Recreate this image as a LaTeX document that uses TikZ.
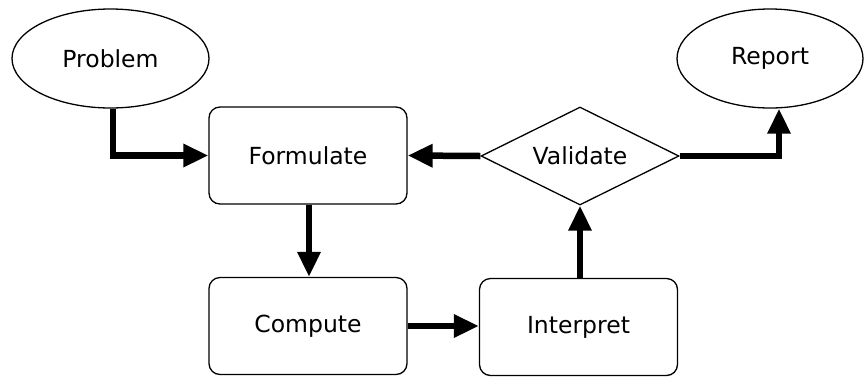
\documentclass[tikz,border=0pt]{standalone}
\usepackage{fontspec}
\setmainfont{DejaVu Sans}
\usetikzlibrary{shapes.geometric,arrows.meta}
\begin{document}
\begin{tikzpicture}[x=1pt,y=-1pt,
  every node/.style={font=\fontsize{23.5}{28}\selectfont},
  term/.style={ellipse,draw,line width=1.3pt,inner sep=0pt},
  procbox/.style={rectangle,draw,rounded corners=11pt,line width=1.3pt,minimum width=198pt,minimum height=97pt,inner sep=0pt},
  decide/.style={diamond,draw,line width=1.3pt,inner sep=0pt,minimum width=198pt,minimum height=98pt,aspect=2},
  flow/.style={line width=6.5pt,-{Triangle[length=25pt,width=22pt]}}
]
\useasboundingbox (0,0) rectangle (864,376);
\node[term,minimum width=197pt,minimum height=99pt] (problem) at (110.5,58.5) {Problem};
\node[term,minimum width=186pt,minimum height=99pt] (report) at (770,58.5) {Report};
\node[procbox] (formulate) at (308,155.5) {Formulate};
\node[decide] (validate) at (580,156) {Validate};
\node[procbox] (compute) at (308,326) {Compute};
\node[procbox] (interpret) at (578.5,327) {Interpret};
\draw[flow] (problem.south -| 113,0) |- (formulate.west);
\draw[flow] (validate.west) -- (formulate.east);
\draw[flow] (validate.east) -| (report.south -| 779,0);
\draw[flow] (formulate.south -| 309,0) -- (compute.north -| 309,0);
\draw[flow] (compute.east) -- (interpret.west |- compute.east);
\draw[flow] (interpret.north -| 580,0) -- (validate.south);
\end{tikzpicture}
\end{document}
